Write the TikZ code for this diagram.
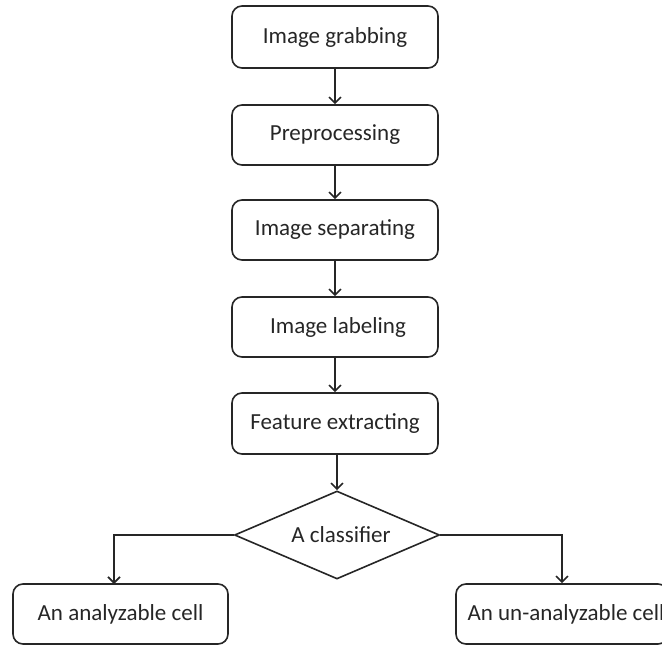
\documentclass[tikz,border=0pt]{standalone}
\usepackage{fontspec}
\setmainfont{Carlito}
\usetikzlibrary{shapes.geometric,arrows.meta}
\begin{document}
\begin{tikzpicture}[x=1pt,y=-1pt,
  stepbox/.style={draw=black!85,line width=1.6pt,rounded corners=10pt,minimum width=206pt,minimum height=60pt,inner sep=0pt,font=\fontsize{23}{27}\selectfont,text=black!85},
  decide/.style={draw=black!85,line width=1.6pt,shape=diamond,aspect=2.33,minimum width=205pt,minimum height=88pt,inner sep=0pt,font=\fontsize{23}{27}\selectfont,text=black!85},
  flow/.style={draw=black!85,line width=1.6pt,-{Straight Barb[length=6pt,width=12pt,line width=1.6pt]}}]
\useasboundingbox (0,0) rectangle (662,646);
\clip (0,0) rectangle (662,646);
\node[stepbox,minimum height=62pt] (b1) at (335,37) {Image grabbing};
\node[stepbox] (b2) at (335,135) {Preprocessing};
\node[stepbox] (b3) at (335,230) {Image separating};
\node[stepbox] (b4) at (335,327) {\hspace{6pt}Image labeling};
\node[stepbox,minimum height=61pt] (b5) at (335,423.5) {Feature extracting};
\node[decide] (d) at (337,535) {\hspace{8pt}A classifier};
\node[stepbox,minimum width=215pt] (l) at (120.5,614) {An analyzable cell};
\node[stepbox,minimum width=212pt] (r) at (562,614) {\hspace{8pt}An un-analyzable cell};
\draw[flow] (b1) -- (b2);
\draw[flow] (b2) -- (b3);
\draw[flow] (b3) -- (b4);
\draw[flow] (b4) -- (b5);
\draw[flow] (b5.south -| d.north) -- (d.north);
\draw[flow] (d.west) -| (114,584);
\draw[flow] (d.east) -| (r.north);
\end{tikzpicture}
\end{document}
